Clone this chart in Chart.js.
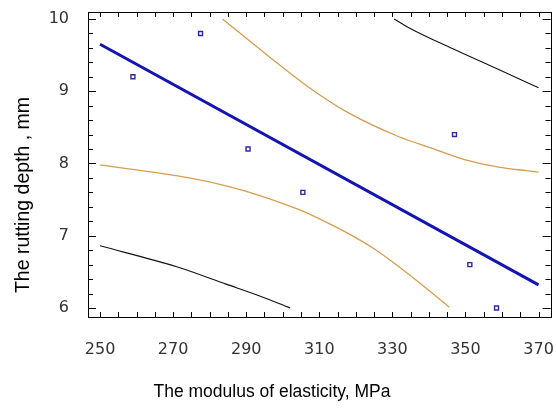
<!DOCTYPE html>
<html>
<head>
<meta charset="utf-8">
<script src="https://cdn.jsdelivr.net/npm/chart.js@4/dist/chart.umd.min.js"></script>
<style>
  html, body { margin: 0; padding: 0; background: #fff; }
  #wrap { width: 556px; height: 410px; }
</style>
</head>
<body>
<div id="wrap"><canvas id="chart" width="556" height="410"></canvas></div>
<script>
// Observed samples
const modulus = [259, 277.5, 290.5, 305.5, 347, 351.2, 358.5];
const rutDepth = [9.2, 9.8, 8.2, 7.6, 8.4, 6.6, 6.0];

// Fitted line (ends)
const fitX = [250, 370];
const fitY = [9.65, 6.32];

// Confidence limits (orange)
const confUpX = [283.5, 295.5, 307, 318, 331.8, 340.9, 350, 359.1, 366.7, 370];
const confUpY = [10.0, 9.51, 9.06, 8.70, 8.37, 8.21, 8.05, 7.95, 7.90, 7.88];
const confLoX = [250, 264.5, 275.5, 284.5, 293.5, 304.5, 311, 318, 325, 331.8, 338.6, 345.6];
const confLoY = [7.98, 7.88, 7.79, 7.69, 7.56, 7.36, 7.21, 7.03, 6.82, 6.57, 6.30, 6.01];

// Prediction limits (black)
const predUpX = [330.5, 334.5, 347.3, 359.1, 370];
const predUpY = [10.0, 9.88, 9.57, 9.30, 9.05];
const predLoX = [250, 271, 284.5, 293.5, 302];
const predLoY = [6.86, 6.57, 6.33, 6.17, 6.0];

// Axis ticks and titles
const xLabels = [250, 270, 290, 310, 330, 350, 370];
const yLabels = [6, 7, 8, 9, 10];
const xTitle = 'The modulus of elasticity, MPa';
const yTitle = 'The rutting depth , mm';

const pts = (xs, ys) => xs.map((x, i) => ({ x: x, y: ys[i] }));

const tickFont = { family: 'DejaVu Sans', size: 16 };

// box with inward ticks on all four sides, plus the axis titles
const boxTicks = {
  id: 'boxTicks',
  afterDraw(chart) {
    const { ctx, chartArea: a, scales: { x, y } } = chart;
    ctx.save();
    ctx.strokeStyle = '#000';
    ctx.lineWidth = 1;
    ctx.strokeRect(Math.round(a.left) + 0.5, Math.round(a.top) + 0.5,
      Math.round(a.right - a.left), Math.round(a.bottom - a.top));
    ctx.beginPath();
    x.ticks.forEach(t => {
      const px = Math.round(x.getPixelForValue(t.value)) + 0.5;
      ctx.moveTo(px, a.bottom); ctx.lineTo(px, a.bottom - 5);
      ctx.moveTo(px, a.top); ctx.lineTo(px, a.top + 5);
    });
    y.ticks.forEach(t => {
      const py = Math.round(y.getPixelForValue(t.value)) + 0.5;
      const len = yLabels.includes(Math.round(t.value * 10) / 10) ? 8 : 5;
      ctx.moveTo(a.left, py); ctx.lineTo(a.left + len, py);
      ctx.moveTo(a.right, py); ctx.lineTo(a.right - len, py);
    });
    ctx.stroke();

    ctx.fillStyle = '#000';
    ctx.textAlign = 'center';
    ctx.textBaseline = 'middle';
    ctx.font = "17.5px 'Liberation Sans', Arial";
    ctx.fillText(xTitle, 272, 392);
    ctx.translate(24, 195);
    ctx.rotate(-Math.PI / 2);
    ctx.font = "19.5px 'Liberation Sans', Arial";
    ctx.fillText(yTitle, 0, 0);
    ctx.restore();
  }
};

const bandLine = (xs, ys, color, w) => ({
  data: pts(xs, ys),
  showLine: true,
  borderColor: color,
  borderWidth: w,
  pointRadius: 0,
  cubicInterpolationMode: 'monotone',
  fill: false
});

new Chart(document.getElementById('chart'), {
  type: 'scatter',
  data: {
    datasets: [
      {
        data: pts(fitX, fitY),
        showLine: true,
        borderColor: '#1414b0',
        borderWidth: 3,
        pointRadius: 0
      },
      bandLine(confUpX, confUpY, '#d69c50', 1.3),
      bandLine(confLoX, confLoY, '#d69c50', 1.3),
      bandLine(predUpX, predUpY, '#111', 1.1),
      bandLine(predLoX, predLoY, '#111', 1.1),
      {
        data: pts(modulus, rutDepth),
        pointStyle: 'rect',
        pointRadius: 2.8,
        pointBorderWidth: 1.4,
        pointBorderColor: '#2a2aa0',
        pointBackgroundColor: 'rgba(0,0,0,0)'
      }
    ]
  },
  options: {
    responsive: false,
    animation: false,
    layout: { padding: { top: 12, right: 4, bottom: 0, left: 0 } },
    plugins: { legend: { display: false }, tooltip: { enabled: false } },
    scales: {
      x: {
        type: 'linear',
        min: 246.7,
        max: 373.3,
        afterBuildTicks(scale) {
          const t = [];
          for (let v = 250; v <= 370; v += 5) t.push({ value: v });
          scale.ticks = t;
        },
        afterFit(scale) {
          scale.height = 93;
          scale.paddingLeft = 0;
          scale.paddingRight = 0;
        },
        grid: { display: false },
        border: { display: false },
        ticks: {
          autoSkip: false,
          maxRotation: 0,
          padding: 15,
          color: '#333',
          font: tickFont,
          callback: v => xLabels.includes(v) ? String(v) : ''
        }
      },
      y: {
        type: 'linear',
        min: 5.875,
        max: 10.097,
        afterBuildTicks(scale) {
          const t = [];
          for (let i = 30; i <= 50; i++) t.push({ value: i / 5 });
          scale.ticks = t;
        },
        afterFit(scale) {
          scale.width = 88;
          scale.paddingTop = 0;
          scale.paddingBottom = 0;
        },
        grid: { display: false },
        border: { display: false },
        ticks: {
          autoSkip: false,
          padding: 11,
          color: '#333',
          font: tickFont,
          callback: v => yLabels.includes(v) ? String(v) : ''
        }
      }
    }
  },
  plugins: [boxTicks]
});
</script>
</body>
</html>
